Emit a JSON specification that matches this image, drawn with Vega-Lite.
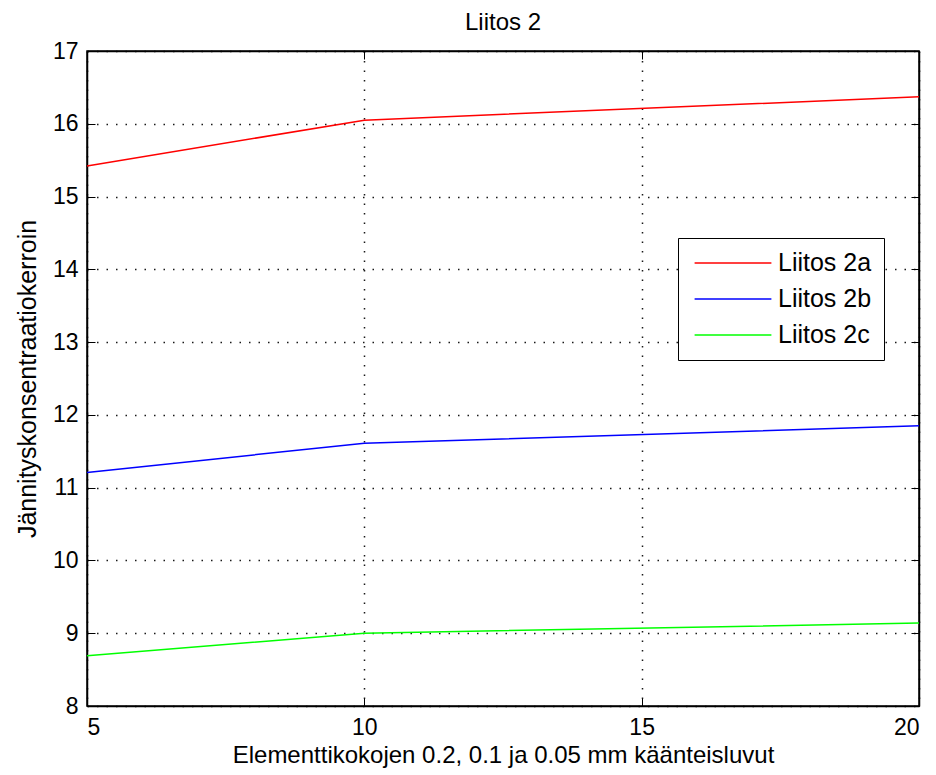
{
  "$schema": "https://vega.github.io/schema/vega-lite/v6.json",
  "width": 832,
  "height": 655,
  "autosize": {"type": "none"},
  "padding": {"left": 87, "top": 51, "right": 17, "bottom": 69},
  "background": "white",
  "config": {
    "font": "Liberation Sans",
    "view": {"stroke": "black", "strokeWidth": 1.5},
    "axis": {"labelFont": "Liberation Sans", "titleFont": "Liberation Sans", "labelFontSize": 23, "titleFontSize": 24, "labelColor": "black", "titleColor": "black", "titleFontWeight": "normal", "domainColor": "black", "tickColor": "black"}
  },
  "title": {"text": "Liitos 2", "fontSize": 24, "fontWeight": "normal", "font": "Liberation Sans", "color": "black", "offset": 5},
  "data": {
    "values": [
      {"x": 5, "y": 15.42, "s": "Liitos 2a"},
      {"x": 10, "y": 16.05, "s": "Liitos 2a"},
      {"x": 20, "y": 16.37, "s": "Liitos 2a"},
      {"x": 5, "y": 11.21, "s": "Liitos 2b"},
      {"x": 10, "y": 11.61, "s": "Liitos 2b"},
      {"x": 20, "y": 11.85, "s": "Liitos 2b"},
      {"x": 5, "y": 8.69, "s": "Liitos 2c"},
      {"x": 10, "y": 9.0, "s": "Liitos 2c"},
      {"x": 20, "y": 9.14, "s": "Liitos 2c"}
    ]
  },
  "layer": [
    {
      "mark": {"type": "line", "strokeWidth": 1.5},
      "encoding": {
        "x": {"field": "x", "type": "quantitative", "scale": {"domain": [5, 20], "nice": false, "zero": false},
          "axis": {"title": "Elementtikokojen 0.2, 0.1 ja 0.05 mm käänteisluvut", "values": [5, 10, 15, 20], "tickSize": -8, "labelPadding": 18, "titlePadding": 4, "grid": true, "gridColor": "black", "gridDash": [1.5, 8], "gridWidth": 1.5, "gridOpacity": 0.9, "domain": true, "domainWidth": 1.5}},
        "y": {"field": "y", "type": "quantitative", "scale": {"domain": [8, 17], "nice": false, "zero": false},
          "axis": {"title": "Jännityskonsentraatiokerroin", "values": [8, 9, 10, 11, 12, 13, 14, 15, 16, 17], "tickSize": -8, "labelPadding": 17, "titlePadding": 12, "titleFontSize": 25, "grid": true, "gridColor": "black", "gridDash": [1.5, 8], "gridWidth": 1.5, "gridOpacity": 0.9, "domainWidth": 1.5}},
        "color": {"field": "s", "type": "nominal",
          "scale": {"domain": ["Liitos 2a", "Liitos 2b", "Liitos 2c"], "range": ["#ff0000", "#0000ff", "#00ff00"]},
          "legend": {"title": null, "orient": "none", "legendX": 591, "legendY": 187, "symbolType": "M-3.2,0H3.2", "symbolSize": 576, "symbolStrokeWidth": 1.5, "symbolFillColor": "transparent", "labelFontSize": 25, "labelFont": "Liberation Sans", "labelColor": "black", "strokeColor": "black", "fillColor": "white", "padding": 12, "rowPadding": 10, "labelOffset": 32, "symbolOffset": 30}}
      }
    },
    {
      "mark": {"type": "line", "opacity": 0},
      "encoding": {
        "x": {"field": "x", "type": "quantitative", "scale": {"domain": [5, 20], "nice": false, "zero": false},
          "axis": {"orient": "top", "title": null, "labels": false, "values": [5, 10, 15, 20], "tickSize": -8, "grid": false, "domainWidth": 1.5}},
        "y": {"field": "y", "type": "quantitative", "scale": {"domain": [8, 17], "nice": false, "zero": false},
          "axis": {"orient": "right", "title": null, "labels": false, "values": [8, 9, 10, 11, 12, 13, 14, 15, 16, 17], "tickSize": -8, "grid": false, "domainWidth": 1.5}},
        "detail": {"field": "s"}
      }
    }
  ],
  "resolve": {"axis": {"x": "independent", "y": "independent"}}
}
